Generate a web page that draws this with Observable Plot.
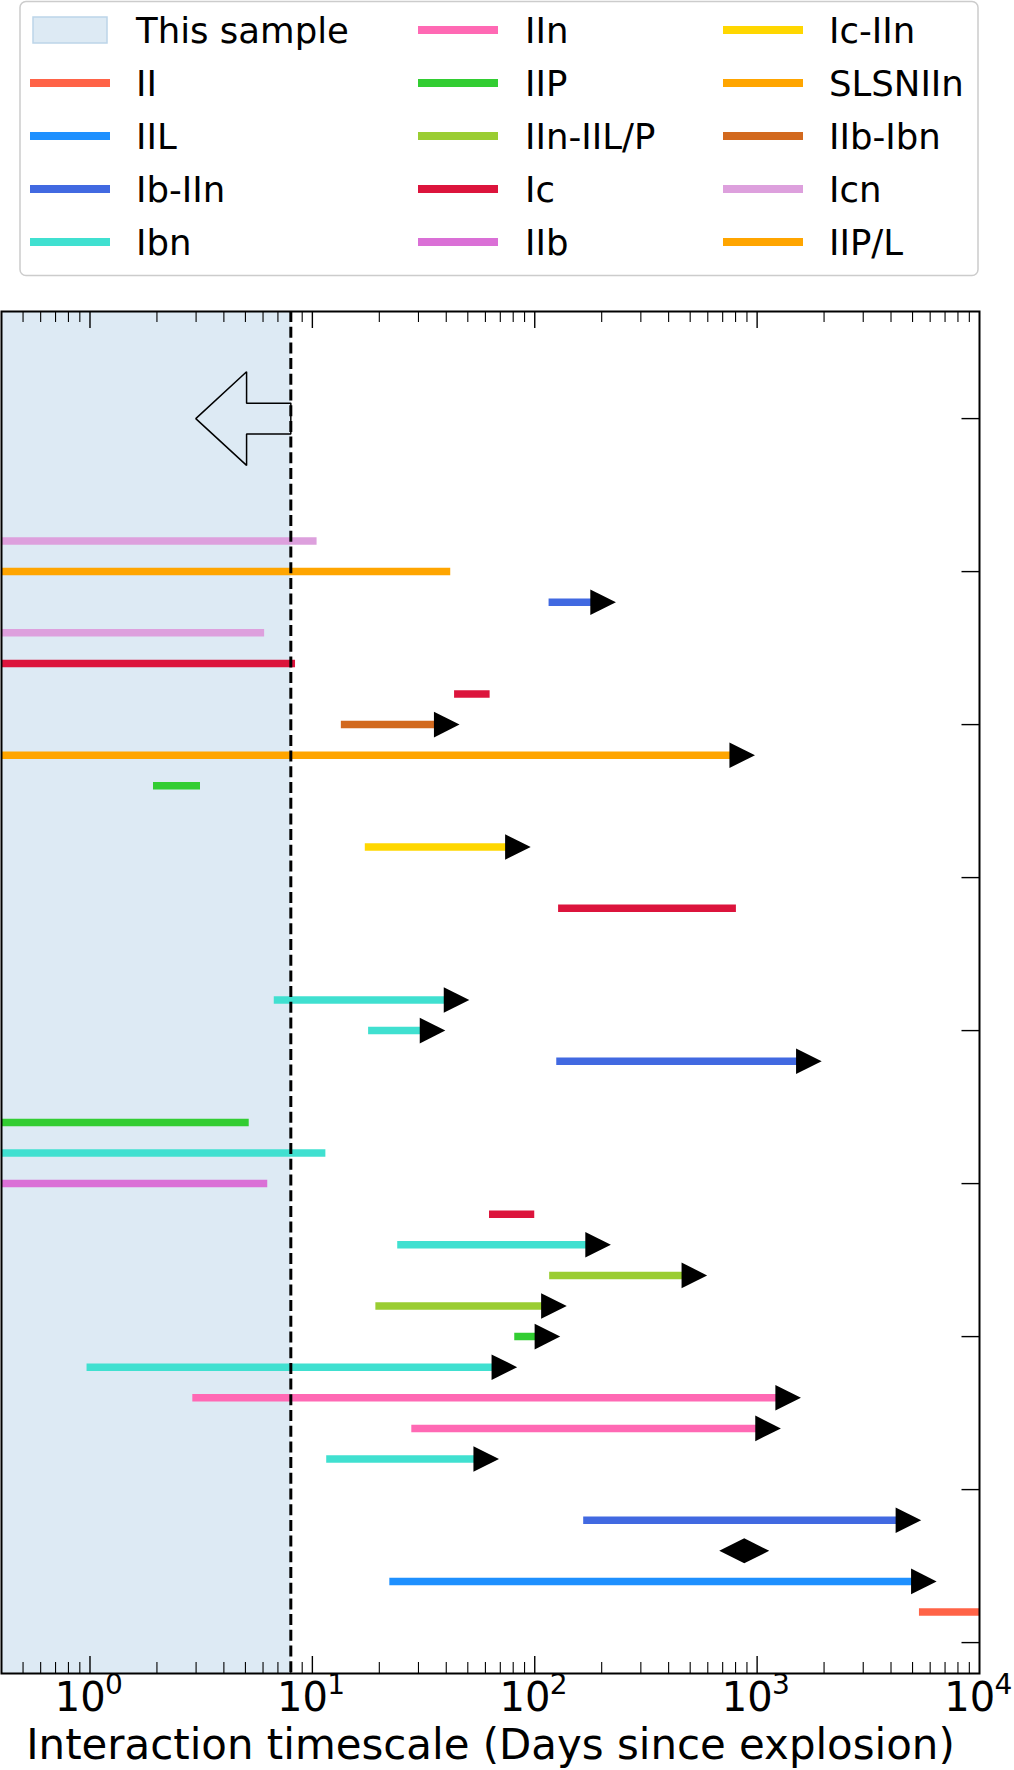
<!DOCTYPE html>
<html><head><meta charset="utf-8">
<script src="https://cdn.jsdelivr.net/npm/d3@7"></script>
<script src="https://cdn.jsdelivr.net/npm/@observablehq/plot@0.6"></script>
<style>
html,body{margin:0;padding:0;background:#fff;}
#wrap{width:1014px;height:1770px;position:relative;overflow:hidden;font-family:"DejaVu Sans",sans-serif;}
svg{display:block;}
</style></head><body><div id="wrap"></div>
<script>
// ---- categories / colours ----
const types = ["II","IIL","Ib-IIn","Ibn","IIn","IIP","IIn-IIL/P","Ic","IIb","Ic-IIn","SLSNIIn","IIb-Ibn","Icn","IIP/L"];
const typeColors = ["#FF6347","#1E90FF","#4169E1","#40E0D0","#FF69B4","#32CD32","#9ACD32","#DC143C","#DA70D6","#FFD700","#FFA500","#D2691E","#DDA0DD","#FFA500"];
const sampleLabel = "This sample";
const sampleLimit = 8;          // days
const xMin = 0.4, xMax = 10000;

// ---- interaction intervals (row, type, start, end, open-ended) ----
const barRow   = [36, 35, 34, 33, 32, 31, 30, 29, 28, 26, 24, 21, 20, 19, 17, 16, 15, 14, 13, 12, 11, 10, 9, 8, 7, 6, 4, 2, 1];
const barType  = ["Icn","IIP/L","Ib-IIn","Icn","Ic","Ic","IIb-Ibn","SLSNIIn","IIP","Ic-IIn","Ic","Ibn","Ibn","Ib-IIn","IIP","Ibn","IIb","Ic","Ibn","IIn-IIL/P","IIn-IIL/P","IIP","Ibn","IIn","IIn","Ibn","Ib-IIn","IIL","II"];
const barStart = [0.4, 0.4, 116, 0.4, 0.4, 43.6, 13.5, 0.4, 1.93, 17.3, 128, 6.74, 17.9, 125.6, 0.4, 0.4, 0.4, 62.6, 24.2, 116.7, 19.3, 81.3, 0.97, 2.9, 28, 11.6, 166, 22.3, 5370];
const barEnd   = [10.5, 41.9, 203, 6.1, 8.4, 63, 40.2, 857, 3.14, 84, 807, 44.5, 34.7, 1709, 5.2, 11.5, 6.3, 100, 192.7, 522, 122, 114, 73, 1379, 1120, 60.5, 4790, 5620, 10000];
const barOpen  = [false, false, true, false, false, false, true, true, false, true, false, true, true, true, false, false, false, false, true, true, true, true, true, true, true, true, true, true, false];

// two-sided constraint marker
const diamondRow = [3];
const diamondX = [875];

// hollow arrow pointing into "this sample" region
const arrowX = [8, 5.06, 5.06, 2.99, 5.06, 5.06, 8, 8];
const arrowY = [40.5, 40.5, 41.53, 40, 38.47, 39.5, 39.5, 40.5];

// axis ticks
const majorTicks = [1, 10, 100, 1000];
const tickLabelValues = [1, 10, 100, 1000, 10000];
const tickExponents = ["0", "1", "2", "3", "4"];
const minorTicks = [];
for (const d of [0.1, 1, 10, 100, 1000]) for (let k = 2; k <= 9; k++) { const v = d * k; if (v > xMin && v < xMax) minorTicks.push(v); }
const yTicks = [0, 5, 10, 15, 20, 25, 30, 35, 40];
const xLabel = "Interaction timescale (Days since explosion)";

const bars = barRow.map((r, i) => ({row: r, type: barType[i], start: barStart[i], end: barEnd[i], open: barOpen[i]}));
const arrowPts = arrowX.map((x, i) => ({x, y: arrowY[i]}));
const diamonds = diamondRow.map((r, i) => ({row: r, x: diamondX[i]}));

const triRight = {draw(ctx, size) { const r = Math.sqrt(size / Math.PI); ctx.moveTo(-r, -r); ctx.lineTo(r, 0); ctx.lineTo(-r, r); ctx.closePath(); }};
const diamondSym = {draw(ctx, size) { const r = Math.sqrt(size / Math.PI); ctx.moveTo(-2 * r, 0); ctx.lineTo(0, -r); ctx.lineTo(2 * r, 0); ctx.lineTo(0, r); ctx.closePath(); }};

const colorOf = t => typeColors[types.indexOf(t)];
const shadeFill = "#ddeaf4";

// ---- legend (above the plot) ----
const wrap = d3.select("#wrap");
const leg = wrap.append("svg").attr("width", 1014).attr("height", 300)
  .style("font-family", '"DejaVu Sans", sans-serif');
leg.append("rect").attr("x", 20).attr("y", 1.5).attr("width", 958).attr("height", 274).attr("rx", 6)
  .attr("fill", "white").attr("stroke", "#cccccc").attr("stroke-width", 1.5);
const legItems = [sampleLabel, ...types];
const colX = [30, 418, 723], txtX = [136, 525, 829], rowY = [30, 83, 136, 189, 242];
legItems.forEach((name, k) => {
  const c = Math.floor(k / 5), r = k % 5;
  const cy = rowY[r];
  if (k === 0) {
    leg.append("rect").attr("x", colX[c] + 3).attr("y", cy - 13).attr("width", 74).attr("height", 26)
      .attr("fill", shadeFill).attr("stroke", "#bcd5e9").attr("stroke-width", 1.5);
  } else {
    leg.append("line").attr("x1", colX[c]).attr("x2", colX[c] + 80).attr("y1", cy).attr("y2", cy)
      .attr("stroke", colorOf(name)).attr("stroke-width", 8);
  }
  leg.append("text").attr("x", txtX[c]).attr("y", cy + 12.8).attr("font-size", 35.5).attr("fill", "black").text(name);
});

// ---- main plot ----
const innerH = 1362, innerW = 978;
const chart = Plot.plot({
  width: 1014, height: 1470,
  marginLeft: 1, marginRight: 35, marginTop: 11, marginBottom: 97,
  x: {type: "log", domain: [xMin, xMax], axis: null},
  y: {domain: [-1.01, 43.5], axis: null},
  style: {fontFamily: '"DejaVu Sans", sans-serif', background: "white", overflow: "visible", color: "black"},
  marks: [
    Plot.rect([{x1: xMin, x2: sampleLimit}], {x1: "x1", x2: "x2", fill: shadeFill}),
    Plot.ruleY(bars, {y: "row", x1: "start", x2: "end", stroke: d => colorOf(d.type), strokeWidth: 7.5}),
    Plot.ruleX([sampleLimit], {stroke: "black", strokeWidth: 3, strokeDasharray: "11,4.7"}),
    Plot.line(arrowPts, {x: "x", y: "y", stroke: "black", strokeWidth: 1.5, fill: "none", strokeLinejoin: "miter", curve: "linear"}),
    Plot.dot(bars.filter(d => d.open), {x: "end", y: "row", symbol: triRight, r: 12.8, fill: "black", stroke: "none"}),
    Plot.dot(diamonds, {x: "x", y: "row", symbol: diamondSym, r: 12.5, fill: "black", stroke: "none"}),
    // inward ticks
    Plot.ruleX(majorTicks, {insetTop: innerH - 17, stroke: "black", strokeWidth: 1.4}),
    Plot.ruleX(majorTicks, {insetBottom: innerH - 17, stroke: "black", strokeWidth: 1.4}),
    Plot.ruleX(minorTicks, {insetTop: innerH - 11, stroke: "black", strokeWidth: 1.1}),
    Plot.ruleX(minorTicks, {insetBottom: innerH - 11, stroke: "black", strokeWidth: 1.1}),
    Plot.ruleY(yTicks, {insetLeft: innerW - 17.5, stroke: "black", strokeWidth: 1.4}),
    Plot.frame({stroke: "black", strokeWidth: 2}),
    // tick labels 10^k
    Plot.text(tickLabelValues, {x: d => d, text: () => "10", frameAnchor: "bottom", dy: 37.7, dx: 15.6, lineAnchor: "bottom", textAnchor: "end", fontSize: 40, fill: "black"}),
    Plot.text(tickLabelValues, {x: d => d, text: (d, i) => tickExponents[i], frameAnchor: "bottom", dy: 20.5, dx: 15, lineAnchor: "bottom", textAnchor: "start", fontSize: 28, fill: "black"}),
    Plot.text([xLabel], {text: d => d, frameAnchor: "bottom", dy: 85, lineAnchor: "bottom", fontSize: 41.9, fill: "black"})
  ]
});
wrap.node().appendChild(chart);
</script></body></html>
